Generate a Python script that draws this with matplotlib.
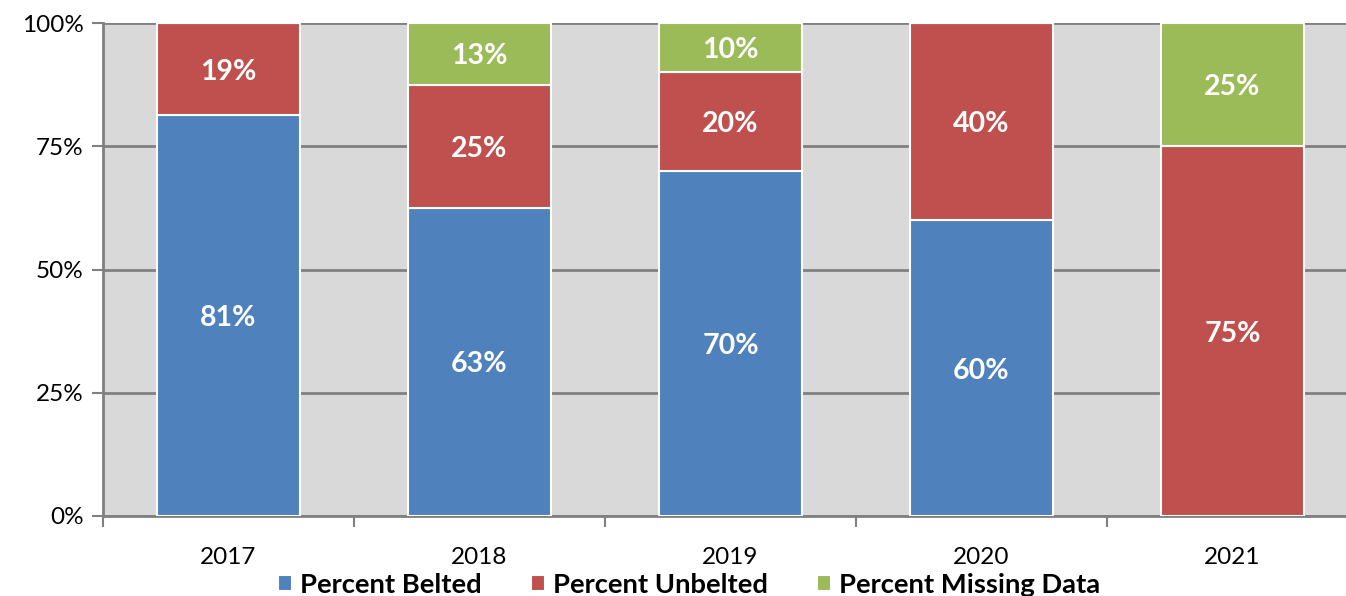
import numpy as np
from matplotlib import pyplot as plt

# data (percent of occupants)
years = ['2017', '2018', '2019', '2020', '2021']
belted = [81.25, 62.5, 70, 60, 0]
unbelted = [18.75, 25, 20, 40, 75]
missing = [0, 12.5, 10, 0, 25]
series_names = ['Percent Belted', 'Percent Unbelted', 'Percent Missing Data']
colors = ['#4F81BD', '#C0504D', '#9BBB59']

plt.rcParams['font.family'] = ['Lato', 'DejaVu Sans']

fig = plt.figure(figsize=(13.46, 5.96), dpi=100)
W, H = 1346, 596
# plot area runs past the right edge of the image, as in the original
ax = fig.add_axes([103 / W, (H - 516) / H, (1358 - 103) / W, 493 / H])
ax.set_facecolor('#D9D9D9')

x = np.arange(len(years))
bottom = np.zeros(len(years))
handles = []
for vals, name, c in zip([belted, unbelted, missing], series_names, colors):
    vals = np.array(vals, dtype=float)
    bars = ax.bar(x, vals, width=0.566, bottom=bottom, color=c,
                  edgecolor='white', linewidth=1.5, label=name, zorder=3)
    handles.append(bars)
    for xi, b, v in zip(x, bottom, vals):
        if v > 0:
            ax.text(xi, b + v / 2, '%d%%' % int(v + 0.5), ha='center', va='center_baseline',
                    color='white', fontsize=20.5, fontweight='bold', zorder=4)
    bottom += vals

ax.set_xlim(-0.5, len(years) - 0.5)
ax.set_ylim(0, 100)
ax.set_yticks([0, 25, 50, 75, 100])
ax.set_yticklabels(['%d%%' % t for t in [0, 25, 50, 75, 100]], fontsize=17.5)
ax.yaxis.grid(True, color='#808080', linewidth=2, zorder=1)
ax.set_axisbelow(True)

# category labels between boundary tick marks
ax.set_xticks(x)
ax.set_xticklabels(years, fontsize=17.5)
ax.tick_params(axis='x', which='major', length=0, pad=22)
ax.set_xticks(np.arange(len(years) + 1) - 0.5, minor=True)
ax.tick_params(axis='x', which='minor', length=8, width=1.5, color='#808080', direction='out')
ax.tick_params(axis='y', length=8, width=1.5, color='#808080', direction='out', pad=6)

for s in ['top', 'right']:
    ax.spines[s].set_visible(False)
ax.spines['left'].set_color('#808080')
ax.spines['left'].set_linewidth(2)
ax.spines['bottom'].set_color('#808080')
ax.spines['bottom'].set_linewidth(2)

fig.legend(handles=handles, labels=series_names, loc='center', ncol=3,
           bbox_to_anchor=(689 / W, (H - 585) / H), frameon=False,
           prop={'size': 19.7, 'weight': 'bold'}, handlelength=0.5, handleheight=0.5,
           handletextpad=0.3, columnspacing=1.8)

plt.savefig('out.png', dpi=100)
